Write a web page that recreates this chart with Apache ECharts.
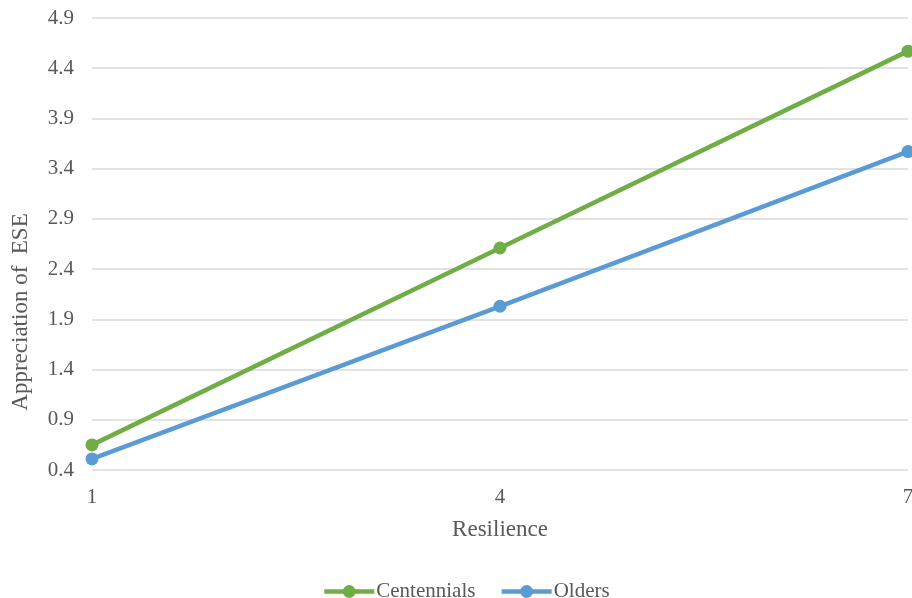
<!DOCTYPE html>
<html>
<head>
<meta charset="utf-8">
<script src="https://cdn.jsdelivr.net/npm/echarts@6/dist/echarts.min.js"></script>
<style>html,body{margin:0;padding:0;background:#fff}#c{width:912px;height:598px}</style>
</head>
<body>
<div id="c"></div>
<script>
const categories = ['1', '4', '7'];
const centennials = [0.65, 2.61, 4.57];
const olders = [0.51, 2.03, 3.57];
const yTicks = [0.4, 0.9, 1.4, 1.9, 2.4, 2.9, 3.4, 3.9, 4.4, 4.9];
const seriesNames = ['Centennials', 'Olders'];
const xTitle = 'Resilience';
const yTitle = 'Appreciation of  ESE';

const font = "'Liberation Serif', 'Times New Roman', serif";
const txt = '#595959';
const chart = echarts.init(document.getElementById('c'));
chart.setOption({
  animation: false,
  backgroundColor: '#fff',
  grid: { left: 92, right: 4, top: 18, bottom: 128, containLabel: false, outerBoundsMode: 'none' },
  legend: {
    data: seriesNames,
    left: 322, top: 581, padding: 0,
    itemWidth: 50, itemHeight: 16, itemGap: 24,
    lineStyle: { width: 4.5 },
    textStyle: { fontFamily: font, fontSize: 21, color: txt, padding: [0, 0, 0, -3] }
  },
  xAxis: {
    type: 'category',
    data: categories,
    boundaryGap: false,
    name: xTitle,
    nameLocation: 'middle',
    nameGap: 48,
    nameTextStyle: { fontFamily: font, fontSize: 23, color: txt },
    axisLine: { show: false },
    axisTick: { show: false },
    axisLabel: { fontFamily: font, fontSize: 21, color: txt, margin: 17 },
    splitLine: { show: false }
  },
  yAxis: {
    type: 'value',
    min: 0.4, max: 4.9,
    axisLine: { show: false },
    axisTick: { show: false, customValues: yTicks },
    axisLabel: { fontFamily: font, fontSize: 21, color: txt, margin: 18, customValues: yTicks,
      formatter: v => v.toFixed(1) },
    splitLine: { show: true, lineStyle: { color: '#d9d9d9', width: 1.5 } }
  },
  graphic: [{
    type: 'text',
    x: 21, y: 312,
    rotation: Math.PI / 2,
    style: { text: yTitle, fontFamily: font, fontSize: 23, fill: txt, align: 'center', verticalAlign: 'middle' }
  }],
  series: [
    { name: seriesNames[0], type: 'line', data: centennials, symbol: 'circle', symbolSize: 13,
      lineStyle: { color: '#70ad47', width: 4.5 }, itemStyle: { color: '#70ad47' } },
    { name: seriesNames[1], type: 'line', data: olders, symbol: 'circle', symbolSize: 13,
      lineStyle: { color: '#5b9bd5', width: 4.5 }, itemStyle: { color: '#5b9bd5' } }
  ]
});
</script>
</body>
</html>
